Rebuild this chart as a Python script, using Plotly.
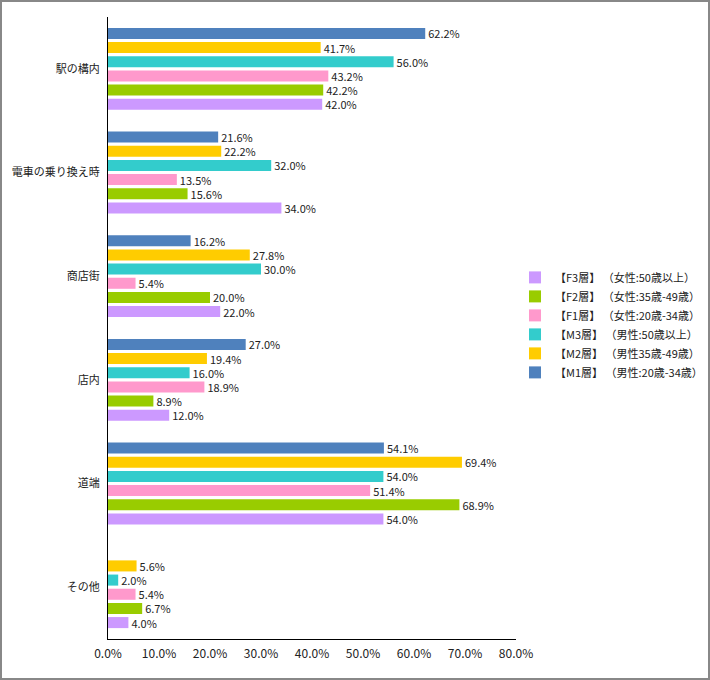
import plotly.graph_objects as go

categories = ["駅の構内", "電車の乗り換え時", "商店街", "店内", "道端", "その他"]
series_names = [
    "【F3層】 （女性:50歳以上）",
    "【F2層】 （女性:35歳-49歳）",
    "【F1層】 （女性:20歳-34歳）",
    "【M3層】 （男性:50歳以上）",
    "【M2層】 （男性35歳-49歳）",
    "【M1層】 （男性:20歳-34歳）",
]
f3 = [42.0, 34.0, 22.0, 12.0, 54.0, 4.0]
f2 = [42.2, 15.6, 20.0, 8.9, 68.9, 6.7]
f1 = [43.2, 13.5, 5.4, 18.9, 51.4, 5.4]
m3 = [56.0, 32.0, 30.0, 16.0, 54.0, 2.0]
m2 = [41.7, 22.2, 27.8, 19.4, 69.4, 5.6]
m1 = [62.2, 21.6, 16.2, 27.0, 54.1, None]
colors = ["#CC99FF", "#99CC00", "#FF99CC", "#33CCCC", "#FFCC00", "#4F81BD"]
tick_vals = [0, 10, 20, 30, 40, 50, 60, 70, 80]
tick_text = ["0.0%", "10.0%", "20.0%", "30.0%", "40.0%", "50.0%", "60.0%", "70.0%", "80.0%"]

FONT = "Noto Sans CJK JP, Meiryo, sans-serif"
fig = go.Figure()
for name, vals, col in zip(series_names, [f3, f2, f1, m3, m2, m1], colors):
    fig.add_trace(go.Bar(
        y=categories, x=vals, name=name, orientation="h",
        marker=dict(color=col, line=dict(width=0)),
        text=[("%.1f%%" % v) if v is not None else "" for v in vals],
        textposition="outside", cliponaxis=False, constraintext="none",
        textfont=dict(size=11, color="#222222", family=FONT),
        hoverinfo="skip",
    ))

W, H = 710, 680
ml, mr, mt, mb = 108, 10, 17, 41
pw, ph = W - ml - mr, H - mt - mb
plot_w = 516 - ml  # pixel width of the x-axis

fig.update_layout(
    width=W, height=H,
    margin=dict(l=ml, r=mr, t=mt, b=mb, pad=0, autoexpand=False),
    barmode="group", bargap=0.18, bargroupgap=0.22,
    plot_bgcolor="white", paper_bgcolor="white",
    font=dict(family=FONT, size=11, color="#222222"),
    showlegend=True,
    legend=dict(x=(515 - ml) / pw, xanchor="left", y=0.505, yanchor="middle",
                font=dict(size=11, family=FONT), bgcolor="rgba(0,0,0,0)",
                tracegroupgap=0, itemwidth=30),
)
fig.update_xaxes(range=[0, 80], domain=[0, plot_w / pw], tickvals=tick_vals, ticktext=tick_text,
                 showgrid=False, zeroline=False, showline=True, linecolor="black",
                 linewidth=1, ticks="outside", ticklen=4, tickcolor="rgba(0,0,0,0)",
                 automargin=False, tickfont=dict(size=12, family=FONT))
fig.update_yaxes(categoryorder="array", categoryarray=list(reversed(categories)),
                 showgrid=False, zeroline=False, showline=True, linecolor="black",
                 linewidth=1, ticks="", ticklen=0, ticksuffix="  ", automargin=False,
                 tickfont=dict(size=11, family=FONT))
# outer gray border
fig.add_shape(type="rect", xref="paper", yref="paper",
              x0=(1 - ml) / pw, x1=(W - 1 - ml) / pw,
              y0=-(mb - 1) / ph, y1=(H - mb - 1) / ph,
              line=dict(color="#888888", width=2), fillcolor="rgba(0,0,0,0)", layer="below")

fig.write_html("out.html", config={"displayModeBar": False},
               post_script="document.body.style.margin='0';")
